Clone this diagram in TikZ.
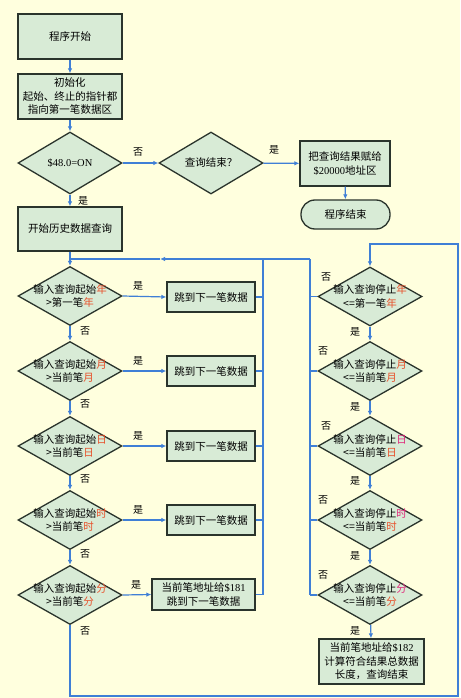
\documentclass[tikz,border=0pt]{standalone}
\usepackage{fontspec}
\setmainfont{Noto Sans CJK SC}
\newfontfamily\lat{Liberation Serif}
\usetikzlibrary{shapes.geometric,arrows.meta}
\definecolor{bgc}{HTML}{FFFFDE}
\definecolor{boxfill}{HTML}{D8EBD6}
\definecolor{flow}{HTML}{3F7FD6}
\definecolor{edgec}{HTML}{2A342C}
\definecolor{hl}{HTML}{E8502A}
\definecolor{hm}{HTML}{E0287A}
\newcommand{\fs}{\fontsize{10.5}{13.5}\selectfont}
\newcommand{\hr}[1]{\textcolor{hl}{#1}}
\newcommand{\hmg}[1]{\textcolor{hm}{#1}}
\begin{document}
\begin{tikzpicture}[x=1pt,y=-1pt,
  box/.style={draw=edgec, line width=1.3pt, fill=boxfill, inner sep=0pt, align=center, font=\fs, minimum width=104pt, minimum height=45pt},
  smallbox/.style={box, minimum width=88pt, minimum height=30pt},
  term/.style={box, rounded corners=14pt, minimum width=89pt, minimum height=29pt},
  dia/.style={diamond, draw=edgec, line width=1.3pt, fill=boxfill, inner sep=0pt, minimum width=104pt, minimum height=59pt},
  dtext/.style={align=center, font=\fs, inner sep=0pt},
  ln/.style={draw=flow, line width=1.2pt},
  arr/.style={ln, -{Latex[length=5pt,width=4.5pt]}},
  lab/.style={font=\fontsize{10}{12}\selectfont, inner sep=0pt}
]
\path[fill=bgc, use as bounding box] (0,0) rectangle (460,698);

% top part
\node[box] (start) at (70,36.5) {程序开始};
\node[box] (init) at (70,96.5) {初始化\\起始、终止的指针都\\指向第一笔数据区};
\node[dia, minimum height=62pt] (d48) at (70,163) {};
\node[dtext] (d48t) at (d48.center) {\lat\$48.0=ON};
\node[dia, minimum height=62pt] (qend) at (211,163) {};
\node[dtext] (qendt) at (qend.center) {查询结束？};
\node[box, minimum width=90pt] (assign) at (345,163.5) {把查询结果赋给\\{\lat\$20000}地址区};
\node[term] (pend) at (345.5,214.5) {程序结束};
\node[box, minimum height=44pt] (hist) at (70,229) {开始历史数据查询};

\draw[arr] (start) -- (init);
\draw[arr] (init) -- (d48);
\draw[arr] (d48) -- (hist);
\draw[arr] (d48) -- (qend);
\draw[arr] (qend) -- (assign);
\draw[arr] (assign) -- (pend);
\node[lab] (l48y) at (83,201) {是};
\node[lab] (l48n) at (138,152) {否};
\node[lab] (lqy) at (274,150) {是};

% left column
\node[dia] (L1) at (70,296) {};
\node[dtext] (L1t) at (L1.center) {输入查询起始\hr{年}\\>第一笔\hr{年}};
\node[dia] (L2) at (70,371) {};
\node[dtext] (L2t) at (L2.center) {输入查询起始\hr{月}\\>当前笔\hr{月}};
\node[dia] (L3) at (70,446) {};
\node[dtext] (L3t) at (L3.center) {输入查询起始\hr{日}\\>当前笔\hr{日}};
\node[dia] (L4) at (70,520) {};
\node[dtext] (L4t) at (L4.center) {输入查询起始\hr{时}\\>当前笔\hr{时}};
\node[dia] (L5) at (70,595) {};
\node[dtext] (L5t) at (L5.center) {输入查询起始\hr{分}\\>当前笔\hr{分}};

\node[smallbox] (B1) at (211,297) {跳到下一笔数据};
\node[smallbox] (B2) at (211,371) {跳到下一笔数据};
\node[smallbox] (B3) at (211,446) {跳到下一笔数据};
\node[smallbox] (B4) at (211,520) {跳到下一笔数据};
\node[box, minimum width=103pt, minimum height=31pt] (B5) at (203.5,594.5) {当前笔地址给{\lat\$181}\\跳到下一笔数据};

\foreach \i in {1,...,5} {
  \draw[arr] (L\i.east) -- (B\i.west);
}
\node[lab] (ly1) at (138,286) {是};
\node[lab] (ly2) at (138,361) {是};
\node[lab] (ly3) at (138,436) {是};
\node[lab] (ly4) at (138,510) {是};
\node[lab] (ly5) at (136,585) {是};

\draw[arr] (L1) -- (L2);
\draw[arr] (L2) -- (L3);
\draw[arr] (L3) -- (L4);
\draw[arr] (L4) -- (L5);
\node[lab] (ln1) at (85,331) {否};
\node[lab] (ln2) at (85,404) {否};
\node[lab] (ln3) at (85,479) {否};
\node[lab] (ln4) at (85,554) {否};
\node[lab] (ln5) at (85,631) {否};

% junction lines
\coordinate (j0) at (70,259);
\coordinate (jmid) at (160,259);
\coordinate (jm) at (263,259);
\coordinate (jr) at (310,259);
\coordinate (jmb) at (263,595);
\coordinate (jrb) at (310,595);
\draw[ln] (hist.south) -- (j0);
\draw[arr] (j0) -- (L1.north);
\draw[arr] (jr) -- (jmid);
\draw[ln] (jmid) -- (j0);
\draw[ln] (jm) -- (jmb);
\draw[ln] (jr) -- (jrb);
\foreach \i in {1,...,5} {
  \draw[ln] (B\i.east) -- (B\i.east -| jm);
}

% right column
\node[dia] (R1) at (370,296.5) {};
\node[dtext] (R1t) at (R1.center) {输入查询停止\hr{年}\\<=第一笔\hr{年}};
\node[dia] (R2) at (370,371) {};
\node[dtext] (R2t) at (R2.center) {输入查询停止\hr{月}\\<=当前笔\hr{月}};
\node[dia] (R3) at (370,446) {};
\node[dtext] (R3t) at (R3.center) {输入查询停止\hmg{日}\\<=当前笔\hr{日}};
\node[dia] (R4) at (370,520) {};
\node[dtext] (R4t) at (R4.center) {输入查询停止\hmg{时}\\<=当前笔\hr{时}};
\node[dia] (R5) at (370,595) {};
\node[dtext] (R5t) at (R5.center) {输入查询停止\hmg{分}\\<=当前笔\hr{分}};
\node[box, minimum width=105pt] (fin) at (371.5,661.5) {当前笔地址给{\lat\$182}\\计算符合结果总数据\\长度，查询结束};

\draw[arr] (R1) -- (R2);
\draw[arr] (R2) -- (R3);
\draw[arr] (R3) -- (R4);
\draw[arr] (R4) -- (R5);
\draw[arr] (R5) -- (fin);
\node[lab] (ry1) at (355,332) {是};
\node[lab] (ry2) at (355,407) {是};
\node[lab] (ry3) at (355,481) {是};
\node[lab] (ry4) at (355,556) {是};
\node[lab] (ry5) at (355,631) {是};
\foreach \i in {1,...,5} {
  \draw[ln] (R\i.west) -- (R\i.west -| jr);
}
\node[lab] (rn1) at (326,277) {否};
\node[lab] (rn2) at (323,351) {否};
\node[lab] (rn3) at (326,426) {否};
\node[lab] (rn4) at (323,500) {否};
\node[lab] (rn5) at (323,575) {否};

% loop from L5 to R1
\coordinate (lp1) at (70,696);
\coordinate (lp2) at (458,696);
\coordinate (lp3) at (458,244);
\coordinate (lp4) at (370,244);
\draw[arr] (L5.south) -- (lp1) -- (lp2) -- (lp3) -- (lp4) -- (R1.north);
\end{tikzpicture}
\end{document}
